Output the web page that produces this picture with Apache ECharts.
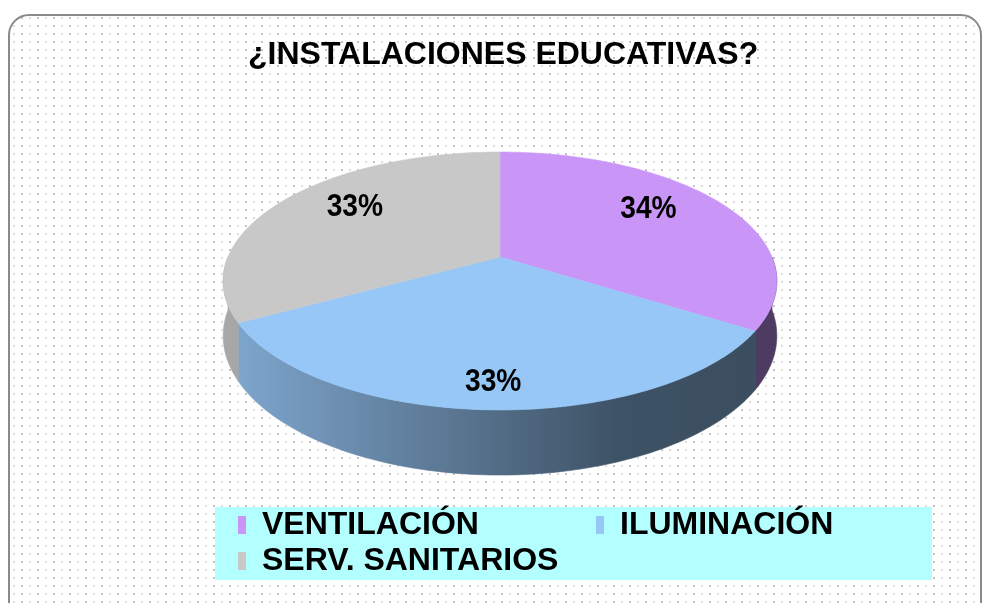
<!DOCTYPE html>
<html>
<head>
<meta charset="utf-8">
<script src="https://cdn.jsdelivr.net/npm/echarts@6/dist/echarts.min.js"></script>
<style>
  html, body { margin: 0; padding: 0; background: #fff; }
  #chart { width: 984px; height: 603px; }
</style>
</head>
<body>
<div id="chart"></div>
<script>
// datos del grafico
const categories = ['VENTILACIÓN', 'ILUMINACIÓN', 'SERV. SANITARIOS'];
const values = [34, 33, 33];
const titleText = '¿INSTALACIONES EDUCATIVAS?';

const topColors = ['#c996f8', '#97c7f7', '#c8c8c8'];
const FONT = '"Liberation Sans", Arial, sans-serif';

// pie 3d "a mano": centro, radios, perspectiva y grosor
const CX = 500, CY = 257, RX = 272, RY = 124.5, K = 0.186, DEPTH = 53;

function proj(a, f) {
  const s = 1 / (1 + K * f * Math.sin(a));
  return [CX + RX * f * Math.cos(a) * s, CY - RY * f * Math.sin(a) * s, s];
}

// posicion de etiqueta (x e y con distinto radio, como excel)
function labelPos(a) {
  const fx = 0.67, fy = 0.85;
  const s = 1 / (1 + K * fy * Math.sin(a));
  return [CX + RX * fx * Math.cos(a) * s, CY - RY * fy * Math.sin(a) * s];
}

function shade(hex, k) {
  const n = parseInt(hex.slice(1), 16);
  const r = Math.round(((n >> 16) & 255) * k);
  const g = Math.round(((n >> 8) & 255) * k);
  const b = Math.round((n & 255) * k);
  return 'rgb(' + r + ',' + g + ',' + b + ')';
}

const total = values.reduce((a, b) => a + b, 0);

function sliceAngles(i) {
  let start = Math.PI / 2;
  for (let j = 0; j < i; j++) start -= values[j] / total * Math.PI * 2;
  const end = start - values[i] / total * Math.PI * 2;
  return [start, end];
}

function renderSlice(params, api) {
  const i = params.dataIndex;
  const [start, end] = sliceAngles(i);
  const children = [];
  const n = 90;

  // cara superior
  const pts = [proj(0, 0).slice(0, 2)];
  for (let k = 0; k <= n; k++) {
    const a = start + (end - start) * k / n;
    pts.push(proj(a, 1).slice(0, 2));
  }
  children.push({
    type: 'polygon', z2: 10,
    shape: { points: pts },
    style: { fill: topColors[i], stroke: topColors[i], lineWidth: 0.6 }
  });

  // pared lateral (solo mitad delantera)
  const lo = Math.max(end, -Math.PI), hi = Math.min(start, 0);
  if (lo < hi) {
    const up = [], down = [];
    for (let k = 0; k <= n; k++) {
      const a = hi + (lo - hi) * k / n;
      const p = proj(a, 1);
      up.push([p[0], p[1]]);
      down.push([p[0], p[1] + DEPTH * p[2]]);
    }
    const grad = {
      type: 'linear', global: true, x: CX - RX, y: 0, x2: CX + RX, y2: 0,
      colorStops: [
        { offset: 0, color: shade(topColors[i], 0.84) },
        { offset: 0.72, color: shade(topColors[i], 0.41) },
        { offset: 1, color: shade(topColors[i], 0.39) }
      ]
    };
    children.push({
      type: 'polygon', z2: 5,
      shape: { points: up.concat(down.reverse()) },
      style: { fill: grad, stroke: grad, lineWidth: 0.6 }
    });
  }

  // etiqueta
  const lp = labelPos((start + end) / 2);
  children.push({
    type: 'text', z2: 20, x: lp[0], y: lp[1], scaleX: 0.88,
    style: {
      text: Math.round(api.value(0) / total * 100) + '%',
      fontSize: 32, fontWeight: 'bold', fontFamily: FONT,
      fill: '#000', align: 'center', verticalAlign: 'middle'
    }
  });

  return { type: 'group', children: children };
}

// fondo punteado
const tile = document.createElement('canvas');
tile.width = 16; tile.height = 8;
const tctx = tile.getContext('2d');
tctx.fillStyle = '#fff';
tctx.fillRect(0, 0, 16, 8);
tctx.fillStyle = '#c4c4c4';
tctx.fillRect(5, 1, 2, 2);
tctx.fillStyle = '#dcdcdc';
tctx.fillRect(13, 1, 2, 2);

const chart = echarts.init(document.getElementById('chart'));
chart.setOption({
  backgroundColor: '#fff',
  animation: false,
  title: {
    text: titleText,
    left: 243, top: 34,
    textStyle: { fontSize: 32, fontWeight: 'bold', color: '#000', fontFamily: FONT }
  },
  legend: {
    left: 238, top: 509, width: 720, padding: 0,
    orient: 'horizontal',
    icon: 'rect', itemWidth: 8, itemHeight: 18, itemGap: 4,
    selectedMode: false,
    data: categories,
    textStyle: {
      fontSize: 32, fontWeight: 'bold', color: '#000', fontFamily: FONT,
      width: 330, lineHeight: 32, padding: [0, 0, 0, 11]
    }
  },
  graphic: [
    {
      type: 'rect', z: -10,
      shape: { x: 9, y: 15, width: 972, height: 640, r: 20 },
      style: { fill: { image: tile, repeat: 'repeat' }, stroke: '#8a8a8a', lineWidth: 2 }
    },
    {
      type: 'rect', z: -5,
      shape: { x: 215, y: 507, width: 717, height: 73 },
      style: { fill: '#b3ffff' }
    }
  ],
  series: [
    {
      type: 'custom',
      coordinateSystem: 'none',
      renderItem: renderSlice,
      data: values.map(v => [v]),
      silent: true
    },
    {
      // solo para la leyenda
      type: 'pie',
      radius: [0, 0],
      silent: true,
      label: { show: false },
      labelLine: { show: false },
      data: categories.map((c, i) => ({ name: c, value: values[i], itemStyle: { color: topColors[i] } }))
    }
  ]
});
</script>
</body>
</html>
